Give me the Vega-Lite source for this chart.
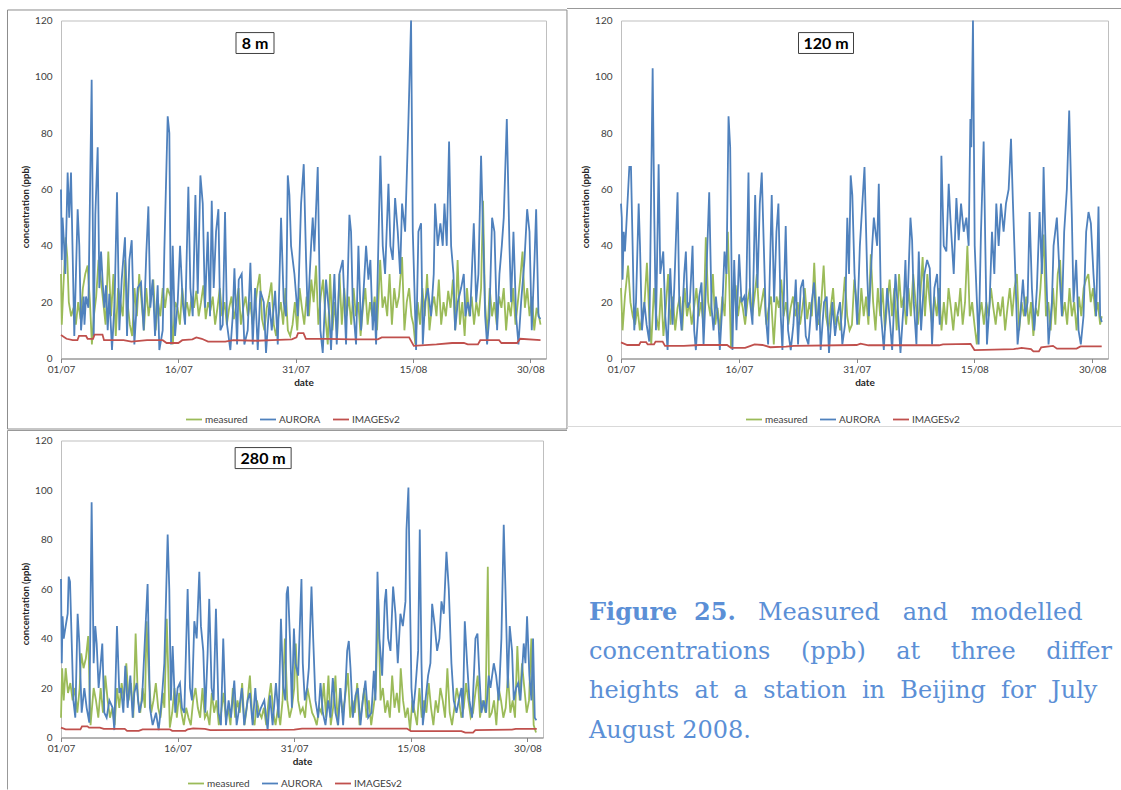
{
"$schema": "https://vega.github.io/schema/vega-lite/v6.json",
"background": "white",
"padding": {"left": 6, "top": 7.5, "right": 0, "bottom": 0},
"columns": 2,
"spacing": {"row": 82, "column": 75},
"bounds": "flush",
"resolve": {"scale": {"color": "independent", "x": "independent", "y": "independent"}, "legend": {"color": "independent"}},
"config": {
 "font": "Lato",
 "view": {"stroke": "#BFBFBF", "strokeWidth": 1},
 "axis": {"labelFont": "Lato", "labelFontSize": 10, "labelColor": "#404040", "titleFont": "Lato", "titleFontSize": 10, "titleFontWeight": "bold", "titleColor": "#262626", "gridColor": "#D9D9D9", "domainColor": "#868686", "tickColor": "#868686", "labelFlush": false, "labelOverlap": false},
 "axisX": {"grid": false, "tickSize": 4, "labelPadding": 2, "titlePadding": 3},
 "axisY": {"domain": false, "ticks": false, "labelPadding": 9, "titlePadding": 4, "titleFontSize": 9.5},
 "legend": {"orient": "none", "direction": "horizontal", "symbolType": "stroke", "symbolStrokeWidth": 2, "symbolSize": 256, "labelFont": "Lato", "labelFontSize": 10, "labelColor": "#404040", "columnPadding": 8, "labelOffset": 2},
 "line": {"strokeWidth": 1.8}
},
"datasets": {
"p1a": [{"d":0,"v":60},{"d":0.1,"v":35},{"d":0.2,"v":50},{"d":0.3,"v":45},{"d":0.4,"v":40},{"d":0.55,"v":30},{"d":0.85,"v":66},{"d":1.05,"v":50},{"d":1.28,"v":66},{"d":1.7,"v":8},{"d":2.13,"v":53},{"d":2.34,"v":40},{"d":2.56,"v":10},{"d":2.9,"v":22},{"d":3.0,"v":12},{"d":3.2,"v":22},{"d":3.5,"v":18},{"d":3.92,"v":99},{"d":4.18,"v":8},{"d":4.39,"v":51},{"d":4.69,"v":75},{"d":4.9,"v":25},{"d":5.12,"v":38},{"d":5.33,"v":27},{"d":5.54,"v":18},{"d":5.75,"v":26},{"d":5.97,"v":10},{"d":6.18,"v":23},{"d":6.52,"v":3},{"d":6.85,"v":20},{"d":7.16,"v":59},{"d":7.46,"v":10},{"d":7.76,"v":28},{"d":8.18,"v":43},{"d":8.44,"v":8},{"d":8.74,"v":35},{"d":9.04,"v":42},{"d":9.38,"v":5},{"d":9.8,"v":25},{"d":10.23,"v":27},{"d":10.57,"v":10},{"d":10.9,"v":37},{"d":11.17,"v":54},{"d":11.42,"v":18},{"d":11.72,"v":28},{"d":12.02,"v":8},{"d":12.36,"v":26},{"d":12.57,"v":3},{"d":13.0,"v":10},{"d":13.21,"v":38},{"d":13.64,"v":86},{"d":13.85,"v":80},{"d":14.07,"v":5},{"d":14.28,"v":40},{"d":14.58,"v":8},{"d":14.92,"v":20},{"d":15.22,"v":40},{"d":15.56,"v":20},{"d":15.86,"v":12},{"d":16.28,"v":61},{"d":16.54,"v":25},{"d":16.84,"v":15},{"d":17.18,"v":58},{"d":17.48,"v":23},{"d":17.82,"v":65},{"d":18.12,"v":55},{"d":18.41,"v":18},{"d":18.76,"v":45},{"d":19.05,"v":15},{"d":19.27,"v":56},{"d":19.52,"v":25},{"d":19.82,"v":45},{"d":20.12,"v":53},{"d":20.37,"v":10},{"d":20.67,"v":12},{"d":20.97,"v":52},{"d":21.23,"v":12},{"d":21.65,"v":3},{"d":21.95,"v":15},{"d":22.17,"v":32},{"d":22.51,"v":5},{"d":22.72,"v":28},{"d":23.1,"v":30},{"d":23.44,"v":5},{"d":23.87,"v":10},{"d":24.21,"v":34},{"d":24.51,"v":5},{"d":24.81,"v":25},{"d":25.15,"v":3},{"d":25.49,"v":24},{"d":25.92,"v":20},{"d":26.21,"v":2},{"d":26.64,"v":20},{"d":26.94,"v":10},{"d":27.37,"v":24},{"d":27.71,"v":5},{"d":28.13,"v":50},{"d":28.47,"v":20},{"d":28.77,"v":15},{"d":28.99,"v":65},{"d":29.2,"v":58},{"d":29.41,"v":40},{"d":29.84,"v":30},{"d":30.26,"v":15},{"d":30.69,"v":55},{"d":31.03,"v":69},{"d":31.33,"v":35},{"d":31.54,"v":15},{"d":31.97,"v":40},{"d":32.18,"v":50},{"d":32.39,"v":38},{"d":32.82,"v":68},{"d":33.16,"v":10},{"d":33.46,"v":2},{"d":33.88,"v":28},{"d":34.31,"v":15},{"d":34.52,"v":3},{"d":34.95,"v":30},{"d":35.25,"v":5},{"d":35.59,"v":30},{"d":36.02,"v":35},{"d":36.44,"v":5},{"d":36.87,"v":51},{"d":37.08,"v":45},{"d":37.29,"v":20},{"d":37.72,"v":5},{"d":38.02,"v":40},{"d":38.36,"v":10},{"d":38.7,"v":25},{"d":39.0,"v":40},{"d":39.3,"v":28},{"d":39.55,"v":35},{"d":39.85,"v":10},{"d":40.06,"v":20},{"d":40.28,"v":5},{"d":40.83,"v":72},{"d":41.13,"v":40},{"d":41.43,"v":30},{"d":41.86,"v":62},{"d":42.11,"v":40},{"d":42.41,"v":35},{"d":42.71,"v":57},{"d":43.05,"v":45},{"d":43.35,"v":30},{"d":43.6,"v":55},{"d":43.99,"v":45},{"d":44.41,"v":84},{"d":44.75,"v":120},{"d":44.97,"v":45},{"d":45.18,"v":25},{"d":45.39,"v":3},{"d":45.69,"v":45},{"d":46.03,"v":48},{"d":46.25,"v":5},{"d":46.54,"v":20},{"d":46.89,"v":25},{"d":47.31,"v":15},{"d":47.65,"v":30},{"d":47.82,"v":55},{"d":48.16,"v":40},{"d":48.5,"v":48},{"d":48.8,"v":40},{"d":49.02,"v":55},{"d":49.31,"v":40},{"d":49.61,"v":77},{"d":49.87,"v":40},{"d":50.17,"v":30},{"d":50.38,"v":10},{"d":50.72,"v":20},{"d":51.15,"v":25},{"d":51.49,"v":30},{"d":51.7,"v":15},{"d":52.0,"v":20},{"d":52.3,"v":15},{"d":52.77,"v":48},{"d":53.07,"v":20},{"d":53.36,"v":30},{"d":53.7,"v":72},{"d":54.05,"v":35},{"d":54.22,"v":15},{"d":54.47,"v":5},{"d":54.77,"v":15},{"d":55.11,"v":50},{"d":55.41,"v":45},{"d":55.75,"v":10},{"d":56.05,"v":30},{"d":56.35,"v":40},{"d":56.6,"v":50},{"d":56.99,"v":85},{"d":57.33,"v":40},{"d":57.54,"v":20},{"d":57.84,"v":45},{"d":58.18,"v":15},{"d":58.48,"v":5},{"d":58.82,"v":20},{"d":59.25,"v":35},{"d":59.59,"v":53},{"d":59.89,"v":45},{"d":60.18,"v":10},{"d":60.53,"v":35},{"d":60.74,"v":53},{"d":61.04,"v":15},{"d":61.29,"v":14}],
"p1m": [{"d":0,"v":30},{"d":0.1,"v":12},{"d":0.3,"v":25},{"d":0.6,"v":43},{"d":0.8,"v":36},{"d":1.0,"v":20},{"d":1.3,"v":15},{"d":1.6,"v":18},{"d":1.9,"v":12},{"d":2.2,"v":20},{"d":2.5,"v":14},{"d":2.8,"v":25},{"d":3.1,"v":30},{"d":3.4,"v":33},{"d":3.7,"v":20},{"d":3.95,"v":5},{"d":4.2,"v":15},{"d":4.5,"v":22},{"d":4.8,"v":35},{"d":5.1,"v":28},{"d":5.4,"v":20},{"d":5.7,"v":12},{"d":6.05,"v":38},{"d":6.4,"v":15},{"d":6.7,"v":30},{"d":7.0,"v":8},{"d":7.3,"v":25},{"d":7.6,"v":20},{"d":7.9,"v":15},{"d":8.2,"v":35},{"d":8.5,"v":20},{"d":8.8,"v":12},{"d":9.1,"v":8},{"d":9.4,"v":25},{"d":9.7,"v":15},{"d":10.0,"v":30},{"d":10.3,"v":20},{"d":10.6,"v":10},{"d":10.9,"v":25},{"d":11.2,"v":15},{"d":11.5,"v":22},{"d":11.8,"v":28},{"d":12.1,"v":10},{"d":12.4,"v":20},{"d":12.7,"v":15},{"d":13.0,"v":25},{"d":13.3,"v":18},{"d":13.6,"v":25},{"d":14.0,"v":22},{"d":14.3,"v":5},{"d":14.6,"v":20},{"d":14.9,"v":18},{"d":15.2,"v":12},{"d":15.5,"v":25},{"d":15.8,"v":16},{"d":16.1,"v":20},{"d":16.4,"v":15},{"d":16.7,"v":22},{"d":17.0,"v":18},{"d":17.3,"v":24},{"d":17.6,"v":15},{"d":17.9,"v":20},{"d":18.2,"v":26},{"d":18.5,"v":14},{"d":18.8,"v":20},{"d":19.1,"v":17},{"d":19.4,"v":22},{"d":19.7,"v":12},{"d":20.0,"v":18},{"d":20.3,"v":25},{"d":20.6,"v":15},{"d":20.9,"v":20},{"d":21.2,"v":12},{"d":21.5,"v":18},{"d":21.8,"v":22},{"d":22.1,"v":14},{"d":22.4,"v":19},{"d":22.7,"v":25},{"d":23.0,"v":12},{"d":23.3,"v":18},{"d":23.6,"v":22},{"d":23.9,"v":15},{"d":24.2,"v":20},{"d":24.5,"v":12},{"d":24.8,"v":18},{"d":25.1,"v":25},{"d":25.4,"v":30},{"d":25.7,"v":14},{"d":26.0,"v":10},{"d":26.3,"v":18},{"d":26.6,"v":22},{"d":26.9,"v":27},{"d":27.2,"v":12},{"d":27.5,"v":8},{"d":27.8,"v":15},{"d":28.1,"v":20},{"d":28.4,"v":12},{"d":28.7,"v":25},{"d":29.0,"v":10},{"d":29.3,"v":8},{"d":29.6,"v":12},{"d":29.9,"v":20},{"d":30.2,"v":10},{"d":30.5,"v":25},{"d":30.8,"v":18},{"d":31.1,"v":12},{"d":31.4,"v":22},{"d":31.7,"v":15},{"d":32.0,"v":28},{"d":32.3,"v":20},{"d":32.6,"v":33},{"d":32.9,"v":12},{"d":33.2,"v":22},{"d":33.5,"v":28},{"d":33.8,"v":15},{"d":34.1,"v":5},{"d":34.4,"v":30},{"d":34.7,"v":10},{"d":35.0,"v":20},{"d":35.3,"v":8},{"d":35.6,"v":30},{"d":35.9,"v":12},{"d":36.2,"v":25},{"d":36.5,"v":15},{"d":36.8,"v":22},{"d":37.1,"v":12},{"d":37.4,"v":25},{"d":37.7,"v":15},{"d":38.0,"v":20},{"d":38.3,"v":8},{"d":38.6,"v":18},{"d":38.9,"v":25},{"d":39.2,"v":12},{"d":39.5,"v":20},{"d":39.8,"v":15},{"d":40.1,"v":22},{"d":40.4,"v":10},{"d":40.8,"v":35},{"d":41.1,"v":18},{"d":41.4,"v":22},{"d":41.7,"v":15},{"d":42.0,"v":30},{"d":42.3,"v":12},{"d":42.6,"v":25},{"d":42.9,"v":18},{"d":43.2,"v":22},{"d":43.6,"v":36},{"d":43.9,"v":10},{"d":44.2,"v":20},{"d":44.5,"v":25},{"d":44.8,"v":15},{"d":45.05,"v":12},{"d":45.3,"v":5},{"d":45.6,"v":20},{"d":45.9,"v":12},{"d":46.2,"v":25},{"d":46.5,"v":15},{"d":46.8,"v":30},{"d":47.1,"v":10},{"d":47.4,"v":18},{"d":47.7,"v":22},{"d":48.0,"v":15},{"d":48.3,"v":28},{"d":48.6,"v":12},{"d":48.9,"v":20},{"d":49.2,"v":15},{"d":49.5,"v":24},{"d":49.8,"v":18},{"d":50.1,"v":28},{"d":50.4,"v":10},{"d":50.7,"v":35},{"d":51.0,"v":12},{"d":51.3,"v":20},{"d":51.6,"v":8},{"d":51.9,"v":25},{"d":52.2,"v":15},{"d":52.5,"v":22},{"d":52.8,"v":12},{"d":53.1,"v":20},{"d":53.4,"v":15},{"d":53.7,"v":25},{"d":53.95,"v":56},{"d":54.2,"v":20},{"d":54.5,"v":8},{"d":54.8,"v":25},{"d":55.1,"v":15},{"d":55.4,"v":20},{"d":55.7,"v":12},{"d":56.0,"v":22},{"d":56.3,"v":18},{"d":56.6,"v":25},{"d":56.9,"v":10},{"d":57.2,"v":20},{"d":57.5,"v":15},{"d":57.8,"v":25},{"d":58.1,"v":12},{"d":58.4,"v":20},{"d":58.7,"v":28},{"d":59.0,"v":38},{"d":59.3,"v":18},{"d":59.6,"v":25},{"d":59.9,"v":15},{"d":60.2,"v":22},{"d":60.5,"v":10},{"d":60.8,"v":18},{"d":61.1,"v":15},{"d":61.3,"v":12}],
"p1i": [{"d":0,"v":8.3},{"d":0.7,"v":7},{"d":1.5,"v":6.5},{"d":2.1,"v":6.5},{"d":2.3,"v":8},{"d":3.2,"v":8},{"d":3.4,"v":7},{"d":4.1,"v":7},{"d":4.3,"v":8.5},{"d":5.3,"v":8.5},{"d":5.5,"v":6.5},{"d":8,"v":6.5},{"d":9,"v":6},{"d":11,"v":6.5},{"d":13,"v":6.5},{"d":13.5,"v":5.5},{"d":15,"v":5.5},{"d":15.5,"v":6.5},{"d":16.8,"v":6.8},{"d":17.3,"v":7.5},{"d":18,"v":7},{"d":18.8,"v":6},{"d":21,"v":6},{"d":22,"v":6.5},{"d":25,"v":6.3},{"d":27,"v":6.5},{"d":29.5,"v":6.8},{"d":30.1,"v":7.5},{"d":30.3,"v":9},{"d":31,"v":9},{"d":31.3,"v":7},{"d":34,"v":7},{"d":37,"v":6.8},{"d":40.5,"v":6.8},{"d":41,"v":7.5},{"d":44.5,"v":7.5},{"d":45.1,"v":4.5},{"d":48,"v":5},{"d":50,"v":5.5},{"d":51.5,"v":5.5},{"d":52,"v":5},{"d":53.3,"v":5},{"d":53.6,"v":6.5},{"d":56,"v":6.5},{"d":56.3,"v":5.5},{"d":58.3,"v":5.5},{"d":58.7,"v":7},{"d":61.3,"v":6.5}],
"p2a": [{"d":0,"v":55},{"d":0.1,"v":50},{"d":0.2,"v":28},{"d":0.35,"v":45},{"d":0.5,"v":38},{"d":0.64,"v":45},{"d":1.06,"v":68},{"d":1.27,"v":68},{"d":1.48,"v":40},{"d":1.69,"v":10},{"d":1.91,"v":20},{"d":2.25,"v":55},{"d":2.42,"v":40},{"d":2.67,"v":10},{"d":2.97,"v":20},{"d":3.26,"v":12},{"d":3.6,"v":6},{"d":4.03,"v":103},{"d":4.24,"v":50},{"d":4.45,"v":10},{"d":4.79,"v":69},{"d":5.0,"v":30},{"d":5.38,"v":38},{"d":5.64,"v":15},{"d":5.93,"v":3},{"d":6.27,"v":32},{"d":6.57,"v":12},{"d":6.78,"v":25},{"d":7.2,"v":59},{"d":7.42,"v":20},{"d":7.71,"v":10},{"d":8.05,"v":30},{"d":8.26,"v":38},{"d":8.47,"v":18},{"d":8.77,"v":20},{"d":9.11,"v":40},{"d":9.32,"v":10},{"d":9.53,"v":3},{"d":9.96,"v":22},{"d":10.25,"v":27},{"d":10.51,"v":5},{"d":10.81,"v":25},{"d":11.23,"v":59},{"d":11.53,"v":18},{"d":11.78,"v":10},{"d":12.08,"v":22},{"d":12.42,"v":12},{"d":12.58,"v":3},{"d":12.92,"v":20},{"d":13.18,"v":38},{"d":13.43,"v":30},{"d":13.69,"v":86},{"d":13.9,"v":75},{"d":14.19,"v":3},{"d":14.41,"v":35},{"d":14.7,"v":10},{"d":15.04,"v":37},{"d":15.34,"v":20},{"d":15.68,"v":22},{"d":15.89,"v":15},{"d":16.23,"v":66},{"d":16.44,"v":20},{"d":16.74,"v":12},{"d":17.08,"v":58},{"d":17.37,"v":25},{"d":17.67,"v":55},{"d":17.92,"v":66},{"d":18.18,"v":40},{"d":18.43,"v":15},{"d":18.73,"v":5},{"d":19.19,"v":58},{"d":19.49,"v":20},{"d":19.79,"v":45},{"d":20.04,"v":55},{"d":20.34,"v":15},{"d":20.55,"v":3},{"d":20.97,"v":47},{"d":21.27,"v":10},{"d":21.61,"v":3},{"d":21.95,"v":12},{"d":22.25,"v":28},{"d":22.54,"v":5},{"d":22.88,"v":25},{"d":23.18,"v":28},{"d":23.52,"v":8},{"d":23.86,"v":5},{"d":24.28,"v":20},{"d":24.58,"v":27},{"d":24.92,"v":10},{"d":25.21,"v":22},{"d":25.42,"v":3},{"d":25.85,"v":20},{"d":26.19,"v":22},{"d":26.48,"v":2},{"d":26.91,"v":20},{"d":27.25,"v":8},{"d":27.54,"v":15},{"d":27.88,"v":20},{"d":28.18,"v":5},{"d":28.52,"v":12},{"d":28.81,"v":50},{"d":29.03,"v":30},{"d":29.24,"v":65},{"d":29.45,"v":58},{"d":29.73,"v":30},{"d":30.07,"v":12},{"d":30.41,"v":40},{"d":31.0,"v":68},{"d":31.34,"v":30},{"d":31.55,"v":15},{"d":31.98,"v":40},{"d":32.19,"v":50},{"d":32.61,"v":40},{"d":32.82,"v":62},{"d":33.12,"v":15},{"d":33.46,"v":3},{"d":33.88,"v":25},{"d":34.18,"v":15},{"d":34.52,"v":3},{"d":34.94,"v":30},{"d":35.24,"v":18},{"d":35.58,"v":2},{"d":36.0,"v":20},{"d":36.21,"v":35},{"d":36.42,"v":15},{"d":36.85,"v":50},{"d":37.06,"v":42},{"d":37.27,"v":20},{"d":37.61,"v":5},{"d":37.91,"v":38},{"d":38.2,"v":10},{"d":38.63,"v":30},{"d":38.97,"v":35},{"d":39.31,"v":32},{"d":39.6,"v":5},{"d":39.9,"v":25},{"d":40.24,"v":30},{"d":40.58,"v":12},{"d":40.79,"v":72},{"d":41.09,"v":40},{"d":41.42,"v":38},{"d":41.72,"v":62},{"d":41.93,"v":50},{"d":42.36,"v":30},{"d":42.7,"v":57},{"d":42.99,"v":42},{"d":43.29,"v":55},{"d":43.63,"v":45},{"d":43.97,"v":50},{"d":44.26,"v":40},{"d":44.48,"v":85},{"d":44.6,"v":75},{"d":44.81,"v":120},{"d":45.03,"v":40},{"d":45.24,"v":25},{"d":45.53,"v":5},{"d":45.83,"v":45},{"d":46.17,"v":77},{"d":46.38,"v":40},{"d":46.59,"v":5},{"d":46.93,"v":20},{"d":47.23,"v":45},{"d":47.53,"v":30},{"d":47.78,"v":55},{"d":48.08,"v":40},{"d":48.37,"v":55},{"d":48.71,"v":45},{"d":49.01,"v":55},{"d":49.35,"v":60},{"d":49.65,"v":78},{"d":49.9,"v":55},{"d":50.2,"v":30},{"d":50.49,"v":5},{"d":50.83,"v":15},{"d":51.17,"v":28},{"d":51.47,"v":15},{"d":51.76,"v":20},{"d":52.02,"v":52},{"d":52.31,"v":25},{"d":52.61,"v":10},{"d":52.95,"v":25},{"d":53.29,"v":52},{"d":53.59,"v":30},{"d":53.8,"v":68},{"d":54.14,"v":30},{"d":54.43,"v":5},{"d":54.86,"v":20},{"d":55.07,"v":40},{"d":55.49,"v":50},{"d":55.83,"v":30},{"d":56.13,"v":15},{"d":56.42,"v":45},{"d":56.76,"v":60},{"d":57.06,"v":88},{"d":57.4,"v":50},{"d":57.61,"v":20},{"d":57.95,"v":35},{"d":58.25,"v":10},{"d":58.54,"v":5},{"d":58.88,"v":15},{"d":59.22,"v":45},{"d":59.52,"v":52},{"d":59.82,"v":48},{"d":60.15,"v":30},{"d":60.49,"v":15},{"d":60.79,"v":54},{"d":61.0,"v":15},{"d":61.21,"v":13}],
"p2m": [{"d":0,"v":25},{"d":0.2,"v":10},{"d":0.5,"v":22},{"d":0.9,"v":33},{"d":1.2,"v":20},{"d":1.5,"v":15},{"d":1.8,"v":12},{"d":2.1,"v":18},{"d":2.4,"v":10},{"d":2.7,"v":15},{"d":3.0,"v":20},{"d":3.3,"v":34},{"d":3.6,"v":15},{"d":3.85,"v":5},{"d":4.2,"v":25},{"d":4.5,"v":15},{"d":4.8,"v":10},{"d":5.1,"v":25},{"d":5.4,"v":8},{"d":5.7,"v":18},{"d":6.0,"v":30},{"d":6.3,"v":12},{"d":6.6,"v":22},{"d":6.9,"v":10},{"d":7.2,"v":18},{"d":7.5,"v":22},{"d":7.8,"v":10},{"d":8.1,"v":25},{"d":8.4,"v":15},{"d":8.7,"v":20},{"d":9.0,"v":12},{"d":9.3,"v":18},{"d":9.6,"v":25},{"d":9.9,"v":15},{"d":10.2,"v":20},{"d":10.5,"v":12},{"d":10.8,"v":43},{"d":11.1,"v":20},{"d":11.4,"v":15},{"d":11.7,"v":30},{"d":12.0,"v":12},{"d":12.3,"v":18},{"d":12.6,"v":10},{"d":12.9,"v":22},{"d":13.2,"v":15},{"d":13.6,"v":45},{"d":14.0,"v":4},{"d":14.3,"v":20},{"d":14.6,"v":26},{"d":14.9,"v":15},{"d":15.2,"v":22},{"d":15.5,"v":18},{"d":15.8,"v":12},{"d":16.1,"v":20},{"d":16.4,"v":25},{"d":16.7,"v":15},{"d":17.0,"v":22},{"d":17.3,"v":30},{"d":17.6,"v":15},{"d":17.9,"v":20},{"d":18.2,"v":25},{"d":18.5,"v":12},{"d":18.8,"v":18},{"d":19.1,"v":22},{"d":19.45,"v":5},{"d":19.8,"v":22},{"d":20.1,"v":18},{"d":20.4,"v":28},{"d":20.7,"v":15},{"d":21.0,"v":20},{"d":21.3,"v":12},{"d":21.6,"v":18},{"d":21.9,"v":22},{"d":22.2,"v":15},{"d":22.5,"v":20},{"d":22.8,"v":12},{"d":23.1,"v":18},{"d":23.4,"v":25},{"d":23.7,"v":14},{"d":24.0,"v":20},{"d":24.3,"v":15},{"d":24.6,"v":34},{"d":24.9,"v":15},{"d":25.2,"v":12},{"d":25.5,"v":20},{"d":25.8,"v":33},{"d":26.1,"v":15},{"d":26.4,"v":10},{"d":26.7,"v":18},{"d":27.0,"v":25},{"d":27.3,"v":12},{"d":27.6,"v":15},{"d":27.9,"v":10},{"d":28.2,"v":18},{"d":28.5,"v":29},{"d":28.8,"v":15},{"d":29.1,"v":10},{"d":29.4,"v":12},{"d":29.7,"v":28},{"d":30.0,"v":20},{"d":30.3,"v":12},{"d":30.6,"v":25},{"d":30.9,"v":15},{"d":31.2,"v":22},{"d":31.5,"v":12},{"d":31.8,"v":37},{"d":32.1,"v":20},{"d":32.4,"v":10},{"d":32.7,"v":25},{"d":33.0,"v":15},{"d":33.3,"v":25},{"d":33.6,"v":10},{"d":33.9,"v":20},{"d":34.2,"v":28},{"d":34.5,"v":15},{"d":34.8,"v":25},{"d":35.1,"v":10},{"d":35.4,"v":30},{"d":35.7,"v":18},{"d":36.0,"v":22},{"d":36.3,"v":12},{"d":36.6,"v":25},{"d":36.9,"v":15},{"d":37.2,"v":30},{"d":37.5,"v":20},{"d":37.8,"v":12},{"d":38.1,"v":22},{"d":38.4,"v":36},{"d":38.7,"v":15},{"d":39.0,"v":30},{"d":39.3,"v":20},{"d":39.6,"v":12},{"d":39.9,"v":22},{"d":40.2,"v":15},{"d":40.5,"v":25},{"d":40.8,"v":10},{"d":41.1,"v":20},{"d":41.4,"v":12},{"d":41.7,"v":25},{"d":42.0,"v":18},{"d":42.3,"v":10},{"d":42.6,"v":20},{"d":42.9,"v":15},{"d":43.2,"v":25},{"d":43.5,"v":12},{"d":43.8,"v":20},{"d":44.1,"v":40},{"d":44.4,"v":15},{"d":44.7,"v":20},{"d":45.0,"v":12},{"d":45.3,"v":5},{"d":45.6,"v":15},{"d":45.9,"v":20},{"d":46.2,"v":12},{"d":46.5,"v":20},{"d":46.8,"v":15},{"d":47.1,"v":25},{"d":47.4,"v":18},{"d":47.7,"v":12},{"d":48.0,"v":20},{"d":48.3,"v":15},{"d":48.6,"v":22},{"d":48.9,"v":10},{"d":49.2,"v":18},{"d":49.5,"v":25},{"d":49.8,"v":15},{"d":50.1,"v":25},{"d":50.4,"v":30},{"d":50.7,"v":10},{"d":51.0,"v":20},{"d":51.3,"v":15},{"d":51.6,"v":22},{"d":51.9,"v":12},{"d":52.2,"v":20},{"d":52.5,"v":8},{"d":52.8,"v":18},{"d":53.1,"v":15},{"d":53.4,"v":25},{"d":53.8,"v":44},{"d":54.1,"v":15},{"d":54.4,"v":20},{"d":54.7,"v":10},{"d":55.0,"v":25},{"d":55.3,"v":12},{"d":55.6,"v":30},{"d":55.9,"v":35},{"d":56.2,"v":15},{"d":56.5,"v":20},{"d":56.8,"v":12},{"d":57.1,"v":25},{"d":57.4,"v":15},{"d":57.7,"v":20},{"d":58.0,"v":10},{"d":58.3,"v":22},{"d":58.6,"v":15},{"d":58.9,"v":25},{"d":59.2,"v":28},{"d":59.5,"v":30},{"d":59.8,"v":20},{"d":60.1,"v":25},{"d":60.4,"v":15},{"d":60.7,"v":20},{"d":61.0,"v":12},{"d":61.2,"v":15}],
"p2i": [{"d":0,"v":5.7},{"d":0.8,"v":4.8},{"d":2.3,"v":4.8},{"d":2.5,"v":5.8},{"d":3.2,"v":5.8},{"d":3.4,"v":5},{"d":4.2,"v":5},{"d":4.4,"v":6},{"d":5.3,"v":6},{"d":5.6,"v":4.5},{"d":8,"v":4.5},{"d":10,"v":4.8},{"d":13.5,"v":4.8},{"d":14,"v":3.8},{"d":15.8,"v":3.8},{"d":16.5,"v":4.5},{"d":17,"v":5},{"d":18,"v":4.8},{"d":19,"v":4},{"d":21,"v":4.2},{"d":22,"v":4.5},{"d":30,"v":4.8},{"d":30.5,"v":5.3},{"d":31.5,"v":4.7},{"d":40.5,"v":4.7},{"d":41,"v":5},{"d":44.5,"v":5.2},{"d":45,"v":3},{"d":50,"v":3.3},{"d":51,"v":3.8},{"d":52.2,"v":3.3},{"d":52.5,"v":2.5},{"d":53.2,"v":2.5},{"d":53.5,"v":4},{"d":55,"v":4.5},{"d":55.5,"v":3.5},{"d":58,"v":3.5},{"d":58.5,"v":4.3},{"d":61.2,"v":4.3}],
"p3a": [{"d":0,"v":64},{"d":0.1,"v":30},{"d":0.2,"v":49},{"d":0.35,"v":40},{"d":0.6,"v":45},{"d":0.86,"v":50},{"d":0.99,"v":65},{"d":1.16,"v":63},{"d":1.41,"v":35},{"d":1.59,"v":15},{"d":1.84,"v":8},{"d":2.14,"v":50},{"d":2.36,"v":38},{"d":2.66,"v":10},{"d":3.0,"v":20},{"d":3.3,"v":12},{"d":3.64,"v":6},{"d":3.94,"v":95},{"d":4.2,"v":30},{"d":4.41,"v":45},{"d":4.59,"v":38},{"d":4.84,"v":20},{"d":5.06,"v":28},{"d":5.31,"v":38},{"d":5.57,"v":10},{"d":5.87,"v":8},{"d":6.22,"v":15},{"d":6.64,"v":12},{"d":6.86,"v":3},{"d":7.2,"v":45},{"d":7.5,"v":18},{"d":7.72,"v":20},{"d":8.02,"v":10},{"d":8.27,"v":29},{"d":8.57,"v":12},{"d":8.92,"v":25},{"d":9.22,"v":8},{"d":9.43,"v":18},{"d":9.73,"v":22},{"d":10.07,"v":10},{"d":10.42,"v":15},{"d":10.8,"v":40},{"d":11.14,"v":62},{"d":11.44,"v":12},{"d":11.79,"v":5},{"d":12.22,"v":10},{"d":12.56,"v":3},{"d":12.86,"v":12},{"d":13.07,"v":20},{"d":13.29,"v":30},{"d":13.72,"v":82},{"d":13.93,"v":60},{"d":14.14,"v":15},{"d":14.36,"v":37},{"d":14.7,"v":10},{"d":15.0,"v":20},{"d":15.3,"v":22},{"d":15.56,"v":12},{"d":15.86,"v":10},{"d":16.29,"v":60},{"d":16.59,"v":20},{"d":16.85,"v":15},{"d":17.15,"v":47},{"d":17.45,"v":40},{"d":17.79,"v":67},{"d":18.0,"v":45},{"d":18.3,"v":35},{"d":18.56,"v":10},{"d":18.86,"v":34},{"d":19.07,"v":56},{"d":19.37,"v":20},{"d":19.63,"v":15},{"d":19.93,"v":52},{"d":20.27,"v":10},{"d":20.57,"v":5},{"d":20.87,"v":40},{"d":21.22,"v":5},{"d":21.56,"v":15},{"d":21.86,"v":8},{"d":22.29,"v":23},{"d":22.59,"v":5},{"d":22.93,"v":12},{"d":23.27,"v":20},{"d":23.57,"v":5},{"d":24.0,"v":15},{"d":24.3,"v":18},{"d":24.65,"v":5},{"d":24.99,"v":20},{"d":25.29,"v":8},{"d":25.72,"v":12},{"d":26.15,"v":15},{"d":26.58,"v":3},{"d":26.88,"v":17},{"d":27.22,"v":5},{"d":27.65,"v":22},{"d":27.99,"v":8},{"d":28.29,"v":48},{"d":28.59,"v":20},{"d":28.85,"v":15},{"d":29.02,"v":58},{"d":29.19,"v":61},{"d":29.45,"v":40},{"d":29.7,"v":12},{"d":29.96,"v":44},{"d":30.16,"v":30},{"d":30.51,"v":25},{"d":30.72,"v":45},{"d":30.93,"v":64},{"d":31.1,"v":30},{"d":31.36,"v":15},{"d":31.66,"v":20},{"d":31.88,"v":28},{"d":32.22,"v":61},{"d":32.44,"v":40},{"d":32.73,"v":15},{"d":33.08,"v":8},{"d":33.38,"v":22},{"d":33.68,"v":10},{"d":34.02,"v":5},{"d":34.36,"v":15},{"d":34.66,"v":8},{"d":34.96,"v":24},{"d":35.31,"v":10},{"d":35.65,"v":5},{"d":35.95,"v":20},{"d":36.29,"v":5},{"d":36.59,"v":20},{"d":36.81,"v":35},{"d":37.02,"v":39},{"d":37.24,"v":28},{"d":37.54,"v":8},{"d":37.88,"v":17},{"d":38.18,"v":20},{"d":38.52,"v":5},{"d":38.82,"v":15},{"d":39.16,"v":23},{"d":39.51,"v":8},{"d":39.94,"v":10},{"d":40.24,"v":27},{"d":40.45,"v":15},{"d":40.71,"v":67},{"d":40.96,"v":40},{"d":41.31,"v":25},{"d":41.65,"v":55},{"d":41.82,"v":60},{"d":42.08,"v":40},{"d":42.38,"v":35},{"d":42.72,"v":61},{"d":43.02,"v":50},{"d":43.32,"v":30},{"d":43.66,"v":50},{"d":43.97,"v":45},{"d":44.31,"v":55},{"d":44.44,"v":84},{"d":44.69,"v":101},{"d":44.87,"v":60},{"d":45.08,"v":20},{"d":45.29,"v":10},{"d":45.59,"v":20},{"d":45.94,"v":35},{"d":46.15,"v":84},{"d":46.37,"v":30},{"d":46.54,"v":5},{"d":46.88,"v":15},{"d":47.22,"v":25},{"d":47.52,"v":30},{"d":47.74,"v":54},{"d":48.08,"v":45},{"d":48.38,"v":35},{"d":48.68,"v":40},{"d":48.94,"v":55},{"d":49.24,"v":50},{"d":49.58,"v":75},{"d":49.88,"v":60},{"d":50.22,"v":30},{"d":50.52,"v":15},{"d":50.87,"v":10},{"d":51.17,"v":15},{"d":51.51,"v":20},{"d":51.68,"v":8},{"d":51.94,"v":47},{"d":52.24,"v":30},{"d":52.54,"v":15},{"d":52.88,"v":8},{"d":53.31,"v":40},{"d":53.57,"v":42},{"d":53.82,"v":25},{"d":54.08,"v":10},{"d":54.38,"v":15},{"d":54.68,"v":10},{"d":55.02,"v":25},{"d":55.24,"v":20},{"d":55.67,"v":30},{"d":55.97,"v":25},{"d":56.31,"v":15},{"d":56.65,"v":40},{"d":56.95,"v":86},{"d":57.17,"v":60},{"d":57.47,"v":20},{"d":57.72,"v":45},{"d":58.02,"v":35},{"d":58.24,"v":15},{"d":58.54,"v":20},{"d":58.8,"v":22},{"d":59.1,"v":15},{"d":59.52,"v":38},{"d":59.74,"v":30},{"d":59.95,"v":49},{"d":60.25,"v":25},{"d":60.51,"v":15},{"d":60.72,"v":40},{"d":60.94,"v":8},{"d":61.15,"v":7}],
"p3m": [{"d":0,"v":8},{"d":0.15,"v":28},{"d":0.35,"v":15},{"d":0.6,"v":28},{"d":0.9,"v":18},{"d":1.2,"v":22},{"d":1.5,"v":15},{"d":1.8,"v":20},{"d":2.1,"v":10},{"d":2.4,"v":20},{"d":2.6,"v":34},{"d":2.9,"v":28},{"d":3.2,"v":32},{"d":3.5,"v":41},{"d":3.8,"v":5},{"d":4.2,"v":20},{"d":4.5,"v":15},{"d":4.8,"v":8},{"d":5.1,"v":20},{"d":5.4,"v":10},{"d":5.7,"v":25},{"d":6.0,"v":15},{"d":6.3,"v":8},{"d":6.6,"v":12},{"d":6.9,"v":5},{"d":7.2,"v":20},{"d":7.5,"v":12},{"d":7.8,"v":22},{"d":8.1,"v":15},{"d":8.4,"v":30},{"d":8.7,"v":15},{"d":9.0,"v":22},{"d":9.3,"v":8},{"d":9.6,"v":42},{"d":9.9,"v":15},{"d":10.2,"v":10},{"d":10.5,"v":20},{"d":10.8,"v":12},{"d":11.0,"v":47},{"d":11.3,"v":25},{"d":11.6,"v":10},{"d":11.9,"v":15},{"d":12.2,"v":22},{"d":12.5,"v":12},{"d":12.8,"v":8},{"d":13.1,"v":18},{"d":13.3,"v":12},{"d":13.6,"v":48},{"d":14.0,"v":4},{"d":14.3,"v":10},{"d":14.6,"v":20},{"d":14.9,"v":8},{"d":15.2,"v":18},{"d":15.5,"v":10},{"d":15.8,"v":5},{"d":16.1,"v":12},{"d":16.4,"v":8},{"d":16.7,"v":5},{"d":17.0,"v":15},{"d":17.3,"v":20},{"d":17.6,"v":12},{"d":17.9,"v":8},{"d":18.2,"v":20},{"d":18.5,"v":8},{"d":18.8,"v":10},{"d":19.1,"v":5},{"d":19.4,"v":18},{"d":19.7,"v":10},{"d":20.0,"v":15},{"d":20.3,"v":5},{"d":20.6,"v":10},{"d":20.9,"v":18},{"d":21.2,"v":8},{"d":21.5,"v":12},{"d":21.8,"v":5},{"d":22.1,"v":20},{"d":22.4,"v":8},{"d":22.7,"v":15},{"d":23.0,"v":10},{"d":23.3,"v":22},{"d":23.6,"v":5},{"d":23.9,"v":12},{"d":24.3,"v":25},{"d":24.6,"v":8},{"d":24.9,"v":5},{"d":25.2,"v":15},{"d":25.5,"v":10},{"d":25.8,"v":8},{"d":26.1,"v":12},{"d":26.4,"v":5},{"d":26.7,"v":15},{"d":27.0,"v":22},{"d":27.3,"v":10},{"d":27.6,"v":5},{"d":27.9,"v":12},{"d":28.2,"v":5},{"d":28.5,"v":15},{"d":28.8,"v":40},{"d":29.1,"v":15},{"d":29.4,"v":8},{"d":29.7,"v":12},{"d":30.0,"v":20},{"d":30.2,"v":38},{"d":30.5,"v":15},{"d":30.8,"v":10},{"d":31.1,"v":12},{"d":31.4,"v":8},{"d":31.7,"v":20},{"d":32.0,"v":15},{"d":32.3,"v":10},{"d":32.6,"v":8},{"d":32.9,"v":5},{"d":33.2,"v":12},{"d":33.5,"v":10},{"d":33.8,"v":22},{"d":34.1,"v":8},{"d":34.4,"v":25},{"d":34.7,"v":5},{"d":35.0,"v":12},{"d":35.3,"v":25},{"d":35.6,"v":5},{"d":35.9,"v":20},{"d":36.2,"v":10},{"d":36.5,"v":15},{"d":36.9,"v":26},{"d":37.2,"v":8},{"d":37.5,"v":15},{"d":37.8,"v":10},{"d":38.1,"v":22},{"d":38.4,"v":5},{"d":38.7,"v":12},{"d":39.0,"v":20},{"d":39.3,"v":8},{"d":39.6,"v":15},{"d":39.9,"v":5},{"d":40.2,"v":12},{"d":40.5,"v":20},{"d":40.8,"v":56},{"d":41.1,"v":15},{"d":41.4,"v":20},{"d":41.7,"v":10},{"d":42.0,"v":15},{"d":42.3,"v":8},{"d":42.6,"v":25},{"d":42.9,"v":12},{"d":43.2,"v":18},{"d":43.5,"v":10},{"d":43.7,"v":28},{"d":44.0,"v":15},{"d":44.3,"v":8},{"d":44.6,"v":12},{"d":44.9,"v":3},{"d":45.2,"v":15},{"d":45.5,"v":10},{"d":45.8,"v":5},{"d":46.1,"v":20},{"d":46.4,"v":8},{"d":46.7,"v":15},{"d":47.0,"v":10},{"d":47.3,"v":22},{"d":47.6,"v":12},{"d":47.9,"v":5},{"d":48.2,"v":15},{"d":48.5,"v":10},{"d":48.8,"v":20},{"d":49.1,"v":15},{"d":49.4,"v":8},{"d":49.7,"v":28},{"d":50.0,"v":10},{"d":50.3,"v":5},{"d":50.6,"v":12},{"d":50.9,"v":20},{"d":51.2,"v":15},{"d":51.5,"v":8},{"d":51.8,"v":12},{"d":52.1,"v":22},{"d":52.4,"v":15},{"d":52.7,"v":8},{"d":53.0,"v":10},{"d":53.3,"v":18},{"d":53.6,"v":25},{"d":53.9,"v":8},{"d":54.2,"v":15},{"d":54.6,"v":10},{"d":54.9,"v":69},{"d":55.1,"v":8},{"d":55.4,"v":10},{"d":55.7,"v":15},{"d":56.0,"v":5},{"d":56.3,"v":20},{"d":56.6,"v":15},{"d":56.9,"v":8},{"d":57.2,"v":12},{"d":57.5,"v":25},{"d":57.8,"v":10},{"d":58.1,"v":15},{"d":58.4,"v":8},{"d":58.7,"v":37},{"d":59.0,"v":15},{"d":59.3,"v":30},{"d":59.6,"v":20},{"d":59.9,"v":10},{"d":60.2,"v":15},{"d":60.5,"v":40},{"d":60.8,"v":5},{"d":61.1,"v":2}],
"p3i": [{"d":0,"v":4},{"d":0.6,"v":3.3},{"d":2.5,"v":3.3},{"d":2.7,"v":4.5},{"d":3.4,"v":4.5},{"d":3.6,"v":4},{"d":5,"v":4},{"d":5.5,"v":3.5},{"d":8.2,"v":3.5},{"d":8.5,"v":2.7},{"d":10,"v":2.7},{"d":10.5,"v":3.3},{"d":14,"v":3.3},{"d":14.3,"v":2.7},{"d":16,"v":2.7},{"d":16.3,"v":3.3},{"d":17,"v":3.7},{"d":18.5,"v":3.5},{"d":19.2,"v":3},{"d":30,"v":3.2},{"d":31,"v":3.6},{"d":44.5,"v":3.6},{"d":45,"v":2.6},{"d":51.5,"v":2.6},{"d":52,"v":2},{"d":53,"v":2},{"d":53.3,"v":3},{"d":58,"v":3.2},{"d":58.5,"v":3.5},{"d":61.2,"v":3.5}]
},
"concat": [
{
 "width": 485, "height": 338,
 "layer": [
  {"data": {"values": [{"part": "chart area"}]}, "mark": {"type": "rect", "filled": false, "color": "#8C8C8C", "strokeWidth": 1, "clip": false}, "encoding": {"x": {"datum": -6.84, "type": "quantitative", "scale": {"domain": [0, 62], "nice": false}}, "x2": {"datum": 64.68}, "y": {"datum": 123.73, "type": "quantitative", "scale": {"domain": [0, 120], "nice": false}}, "y2": {"datum": -25.03}}},
  {
   "encoding": {
    "x": {"field": "d", "type": "quantitative", "scale": {"domain": [0, 62], "nice": false}, "axis": {"values": [0, 15, 30, 45, 60], "title": "date", "labelExpr": "timeFormat(datetime(2008, 6, 1 + datum.value), '%d/%m')"}},
    "y": {"field": "v", "type": "quantitative", "scale": {"domain": [0, 120], "nice": false}, "axis": {"values": [0, 20, 40, 60, 80, 100, 120], "title": "concentration (ppb)", "titleY": 186}}
   },
   "layer": [
    {"data": {"name": "p1m"}, "mark": "line", "encoding": {"color": {"datum": "measured", "type": "nominal", "scale": {"domain": ["measured", "AURORA", "IMAGESv2"], "range": ["#9BBB59", "#4F81BD", "#C0504D"]}, "legend": {"title": null, "legendX": 124, "legendY": 390}}}},
    {"data": {"name": "p1a"}, "mark": "line", "encoding": {"color": {"datum": "AURORA", "type": "nominal"}}},
    {"data": {"name": "p1i"}, "mark": "line", "encoding": {"color": {"datum": "IMAGESv2", "type": "nominal"}}}
   ]
  },
  {"data": {"values": [{"t": "8 m"}]}, "mark": {"type": "point", "shape": "M-1,-0.55H1V0.55H-1Z", "size": 1444, "filled": true, "fill": "white", "stroke": "#404040", "strokeWidth": 1, "opacity": 1}, "encoding": {"x": {"datum": 24.8, "type": "quantitative"}, "y": {"datum": 112, "type": "quantitative"}}},
  {"data": {"values": [{"t": "8 m"}]}, "mark": {"type": "text", "font": "Lato", "fontSize": 16, "fontWeight": "bold", "color": "#000000", "baseline": "middle", "dy": 1}, "encoding": {"x": {"datum": 24.8, "type": "quantitative"}, "y": {"datum": 112, "type": "quantitative"}, "text": {"field": "t"}}}
 ]
},
{
 "width": 487, "height": 338,
 "layer": [
  {"data": {"values": [{"part": "chart area top"}]}, "mark": {"type": "rule", "color": "#999999", "strokeWidth": 1, "clip": false}, "encoding": {"x": {"datum": -6.87, "type": "quantitative", "scale": {"domain": [0, 62], "nice": false}}, "x2": {"datum": 63.72}, "y": {"datum": 124.26, "type": "quantitative", "scale": {"domain": [0, 120], "nice": false}}}},
  {"data": {"values": [{"part": "chart area bottom"}]}, "mark": {"type": "rule", "color": "#D9D9D9", "strokeWidth": 1, "clip": false}, "encoding": {"x": {"datum": -6.87, "type": "quantitative", "scale": {"domain": [0, 62], "nice": false}}, "x2": {"datum": 63.72}, "y": {"datum": -24.14, "type": "quantitative", "scale": {"domain": [0, 120], "nice": false}}}},
  {
   "encoding": {
    "x": {"field": "d", "type": "quantitative", "scale": {"domain": [0, 62], "nice": false}, "axis": {"values": [0, 15, 30, 45, 60], "title": "date", "labelExpr": "timeFormat(datetime(2008, 6, 1 + datum.value), '%d/%m')"}},
    "y": {"field": "v", "type": "quantitative", "scale": {"domain": [0, 120], "nice": false}, "axis": {"values": [0, 20, 40, 60, 80, 100, 120], "title": "concentration (ppb)", "titleY": 186}}
   },
   "layer": [
    {"data": {"name": "p2m"}, "mark": "line", "encoding": {"color": {"datum": "measured", "type": "nominal", "scale": {"domain": ["measured", "AURORA", "IMAGESv2"], "range": ["#9BBB59", "#4F81BD", "#C0504D"]}, "legend": {"title": null, "legendX": 124, "legendY": 390}}}},
    {"data": {"name": "p2a"}, "mark": "line", "encoding": {"color": {"datum": "AURORA", "type": "nominal"}}},
    {"data": {"name": "p2i"}, "mark": "line", "encoding": {"color": {"datum": "IMAGESv2", "type": "nominal"}}}
   ]
  },
  {"data": {"values": [{"t": "120 m"}]}, "mark": {"type": "point", "shape": "M-1,-0.38H1V0.38H-1Z", "size": 3025, "filled": true, "fill": "white", "stroke": "#404040", "strokeWidth": 1, "opacity": 1}, "encoding": {"x": {"datum": 26.1, "type": "quantitative"}, "y": {"datum": 112, "type": "quantitative"}}},
  {"data": {"values": [{"t": "120 m"}]}, "mark": {"type": "text", "font": "Lato", "fontSize": 16, "fontWeight": "bold", "color": "#000000", "baseline": "middle", "dy": 1}, "encoding": {"x": {"datum": 26.1, "type": "quantitative"}, "y": {"datum": 112, "type": "quantitative"}, "text": {"field": "t"}}}
 ]
},
{
 "width": 482, "height": 297,
 "layer": [
  {"data": {"values": [{"part": "chart area top"}]}, "mark": {"type": "rule", "color": "#999999", "strokeWidth": 1, "clip": false}, "encoding": {"x": {"datum": -6.88, "type": "quantitative", "scale": {"domain": [0, 62], "nice": false}}, "x2": {"datum": 65.09}, "y": {"datum": 124.04, "type": "quantitative", "scale": {"domain": [0, 120], "nice": false}}}},
  {"data": {"values": [{"part": "chart area left"}]}, "mark": {"type": "rule", "color": "#999999", "strokeWidth": 1, "clip": false}, "encoding": {"x": {"datum": -6.88, "type": "quantitative", "scale": {"domain": [0, 62], "nice": false}}, "y": {"datum": 124.04, "type": "quantitative", "scale": {"domain": [0, 120], "nice": false}}, "y2": {"datum": -21.0}}},
  {
   "encoding": {
    "x": {"field": "d", "type": "quantitative", "scale": {"domain": [0, 62], "nice": false}, "axis": {"values": [0, 15, 30, 45, 60], "title": "date", "labelExpr": "timeFormat(datetime(2008, 6, 1 + datum.value), '%d/%m')"}},
    "y": {"field": "v", "type": "quantitative", "scale": {"domain": [0, 120], "nice": false}, "axis": {"values": [0, 20, 40, 60, 80, 100, 120], "title": "concentration (ppb)", "titleY": 163}}
   },
   "layer": [
    {"data": {"name": "p3m"}, "mark": "line", "encoding": {"color": {"datum": "measured", "type": "nominal", "scale": {"domain": ["measured", "AURORA", "IMAGESv2"], "range": ["#9BBB59", "#4F81BD", "#C0504D"]}, "legend": {"title": null, "legendX": 126, "legendY": 334}}}},
    {"data": {"name": "p3a"}, "mark": "line", "encoding": {"color": {"datum": "AURORA", "type": "nominal"}}},
    {"data": {"name": "p3i"}, "mark": "line", "encoding": {"color": {"datum": "IMAGESv2", "type": "nominal"}}}
   ]
  },
  {"data": {"values": [{"t": "280 m"}]}, "mark": {"type": "point", "shape": "M-1,-0.375H1V0.375H-1Z", "size": 3136, "filled": true, "fill": "white", "stroke": "#404040", "strokeWidth": 1, "opacity": 1}, "encoding": {"x": {"datum": 26.0, "type": "quantitative"}, "y": {"datum": 112.9, "type": "quantitative"}}},
  {"data": {"values": [{"t": "280 m"}]}, "mark": {"type": "text", "font": "Lato", "fontSize": 16, "fontWeight": "bold", "color": "#000000", "baseline": "middle", "dy": 1}, "encoding": {"x": {"datum": 26.0, "type": "quantitative"}, "y": {"datum": 112.9, "type": "quantitative"}, "text": {"field": "t"}}}
 ]
},
{
 "width": 499, "height": 297,
 "view": {"stroke": null},
 "encoding": {
  "y": {"field": "line", "type": "quantitative", "scale": {"domain": [-3.615, 4], "reverse": true}, "axis": null},
  "text": {"field": "t"}
 },
 "layer": [
  {"data": {"values": [{"line": 1, "t": "Figure\u00a0\u00a025."}]}, "mark": {"type": "text", "font": "DejaVu Serif", "fontSize": 24, "fontWeight": "bold", "color": "#5B8FD6", "align": "left", "baseline": "alphabetic"}, "encoding": {"x": {"datum": 0, "type": "quantitative", "scale": {"domain": [32, 531]}, "axis": null}}},
  {"data": {"values": [{"line": 1, "t": "Measured\u00a0\u00a0\u00a0and\u00a0\u00a0\u00a0modelled"}]}, "mark": {"type": "text", "font": "DejaVu Serif", "fontSize": 24, "color": "#5B8FD6", "align": "left", "baseline": "alphabetic"}, "encoding": {"x": {"datum": 169, "type": "quantitative", "scale": {"domain": [32, 531]}, "axis": null}}},
  {"data": {"values": [{"line": 2, "t": "concentrations\u00a0\u00a0\u00a0\u00a0(ppb)\u00a0\u00a0\u00a0\u00a0at\u00a0\u00a0\u00a0\u00a0three\u00a0\u00a0\u00a0\u00a0different"}, {"line": 3, "t": "heights\u00a0\u00a0at\u00a0\u00a0a\u00a0\u00a0station\u00a0\u00a0in\u00a0\u00a0Beijing\u00a0\u00a0for\u00a0\u00a0July"}, {"line": 4, "t": "August 2008."}]}, "mark": {"type": "text", "font": "DejaVu Serif", "fontSize": 24, "color": "#5B8FD6", "align": "left", "baseline": "alphabetic", "limit": 530, "ellipsis": "\u200b"}, "encoding": {"x": {"datum": 0, "type": "quantitative", "scale": {"domain": [32, 531]}, "axis": null}}}
 ]
}
]
}
